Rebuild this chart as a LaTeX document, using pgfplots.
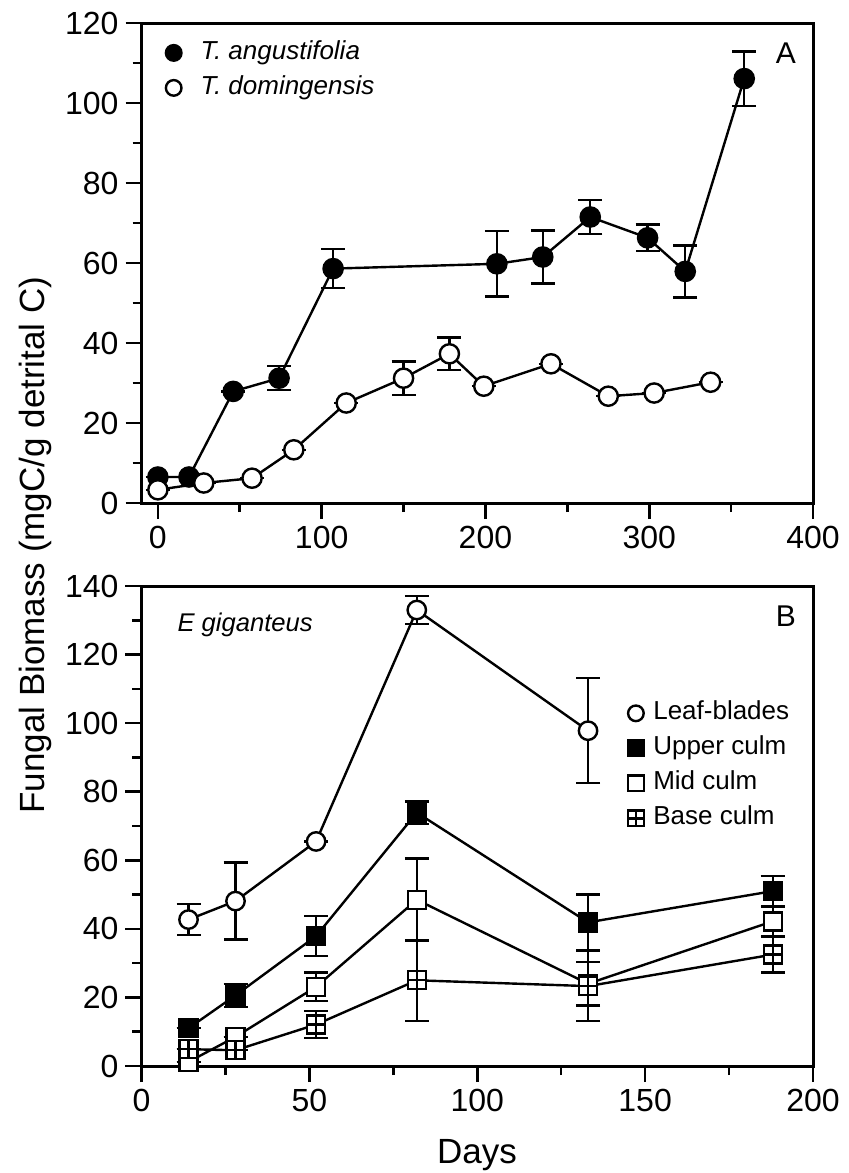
\documentclass[border=0pt]{standalone}
\usepackage{fontspec}
\setmainfont{Liberation Sans}
\usepackage{pgfplots}
\pgfplotsset{compat=1.18}
\usetikzlibrary{plotmarks}
\pgfdeclareplotmark{sqplus}{%
  \pgfpathrectangle{\pgfqpoint{-\pgfplotmarksize}{-\pgfplotmarksize}}{\pgfqpoint{2\pgfplotmarksize}{2\pgfplotmarksize}}%
  \pgfusepathqfillstroke
  \pgfpathmoveto{\pgfqpoint{-\pgfplotmarksize}{0pt}}\pgfpathlineto{\pgfqpoint{\pgfplotmarksize}{0pt}}%
  \pgfpathmoveto{\pgfqpoint{0pt}{-\pgfplotmarksize}}\pgfpathlineto{\pgfqpoint{0pt}{\pgfplotmarksize}}%
  \pgfusepathqstroke}

\pgfplotstableread{
x y e
0 6.5 0
19 6.5 0
46 27.9 0
74 31.2 3.0
107 58.6 4.9
207 59.8 8.2
235 61.5 6.6
264 71.5 4.3
299 66.3 3.3
322 57.9 6.5
358 106.1 6.8
}\angust
\pgfplotstableread{
x y e
0 3.3 0
28 5.0 0
57.5 6.2 0
83 13.3 0
115 25.0 0
150 31.2 4.2
178 37.3 4.1
199 29.2 0
240 34.8 0
275 26.7 0
303 27.5 0
337.5 30.2 0
}\doming
\pgfplotstableread{
x y e
14 42.7 4.5
28 48.1 11.2
52 65.5 0
82 133.0 4.0
133 97.8 15.3
}\leaf
\pgfplotstableread{
x y e
14 11.0 0
28 20.6 3.4
52 37.9 5.8
82 73.9 3.3
133 41.9 8.1
188 51.0 4.5
}\upper
\pgfplotstableread{
x y e
14 1.2 0
28 8.5 0
52 23.1 4.2
82 48.5 12.0
133 24.0 6.4
188 42.2 4.2
}\mid
\pgfplotstableread{
x y e
14 4.9 0
28 4.6 0
52 12.1 3.9
82 25.0 11.8
133 23.3 10.2
188 32.5 5.2
}\base

\pgfplotsset{
  myaxis/.style={
    scale only axis, width=335.75pt, height=240pt,
    axis line style={line width=1.5pt},
    tick align=outside, tick pos=left,
    major tick length=8pt, minor tick length=4.5pt,
    every tick/.style={line width=1.3pt, black},
    tick label style={font=\fontsize{16}{16}\selectfont},
    /pgf/number format/assume math mode=true,
    clip=false,
    legend cell align=left,
  },
  ser/.style={black, line width=1.2pt, mark options={line width=1.1pt, solid}},
  eb/.style={draw=none, mark=none, forget plot,
    error bars/.cd, y dir=both, y explicit,
    error bar style={line width=1.2pt, black},
    error mark options={line width=1.2pt, black, mark size=6pt, rotate=90}},
}

\begin{document}
\begin{tikzpicture}
\useasboundingbox (0,0) rectangle (424pt,-586.5pt);

\begin{axis}[myaxis,
  at={(70.75pt,-11.5pt)}, anchor=north west,
  xmin=-10, xmax=400, ymin=0, ymax=120,
  xtick={0,100,...,400}, minor xtick={50,150,250,350},
  ytick={0,20,...,120}, minor ytick={10,30,...,110},
  legend image code/.code={\draw[#1, mark size=3.9pt] plot coordinates {(0pt,0pt)};},
  legend style={draw=none, fill=none, at={(0,1)}, anchor=north west,
    xshift=12pt, yshift=-8.5pt, inner sep=0pt, row sep=5pt,
    font=\fontsize{13}{13}\selectfont\itshape,
    nodes={inner sep=0pt, text height=9.5pt, text depth=3pt},
    /tikz/every odd column/.append style={column sep=9.5pt}},
]
\addplot[eb] table[x=x, y=y, y error=e] {\angust};
\addplot[eb] table[x=x, y=y, y error=e] {\doming};
\addplot[ser, mark=*, mark size=4.8pt, mark options={fill=black}] table[x=x, y=y] {\angust};
\addplot[ser, mark=*, mark size=4.8pt, mark options={fill=white}] table[x=x, y=y] {\doming};
\legend{T. angustifolia, T. domingensis}
\node[font=\fontsize{15}{15}\selectfont] at ([xshift=-13.5pt, yshift=-15pt]rel axis cs:1,1) {A};
\end{axis}

\begin{axis}[myaxis,
  at={(70.75pt,-293pt)}, anchor=north west,
  xmin=0, xmax=200, ymin=0, ymax=140,
  xtick={0,50,...,200}, minor xtick={25,75,125,175},
  ytick={0,20,...,140}, minor ytick={10,30,...,130},
  legend image code/.code={\draw[#1, mark size=3.9pt] plot coordinates {(0pt,0pt)};},
  legend style={draw=none, fill=none, at={(0,1)}, anchor=north west,
    xshift=243.1pt, yshift=-57.2pt, inner sep=0pt, row sep=5pt,
    font=\fontsize{13}{13}\selectfont,
    nodes={inner sep=0pt, text height=9.5pt, text depth=3pt},
    /tikz/every odd column/.append style={column sep=4.8pt}},
]
\addplot[eb] table[x=x, y=y, y error=e] {\leaf};
\addplot[eb] table[x=x, y=y, y error=e] {\upper};
\addplot[eb] table[x=x, y=y, y error=e] {\mid};
\addplot[eb] table[x=x, y=y, y error=e] {\base};
\addplot[ser, mark=*, mark size=4.6pt, mark options={fill=white}] table[x=x, y=y] {\leaf};
\addplot[ser, mark=square*, mark size=4.5pt, mark options={fill=black}] table[x=x, y=y] {\upper};
\addplot[ser, mark=square*, mark size=4.5pt, mark options={fill=white}] table[x=x, y=y] {\mid};
\addplot[ser, mark=sqplus, mark size=4.5pt, mark options={fill=white}] table[x=x, y=y] {\base};
\legend{Leaf-blades, Upper culm, Mid culm, Base culm}
\node[font=\fontsize{15}{15}\selectfont] at ([xshift=-13.5pt, yshift=-15pt]rel axis cs:1,1) {B};
\node[font=\fontsize{12.8}{12.8}\selectfont\itshape, anchor=west] at ([xshift=14.5pt, yshift=-19.5pt]rel axis cs:0,1) {E giganteus};
\end{axis}

\node[rotate=90, font=\fontsize{17.5}{17.5}\selectfont] at (17.5pt,-272.5pt) {Fungal Biomass (mgC/g detrital C)};
\node[anchor=base, font=\fontsize{17.5}{17.5}\selectfont] at (238.5pt,-581.5pt) {Days};
\end{tikzpicture}
\end{document}
